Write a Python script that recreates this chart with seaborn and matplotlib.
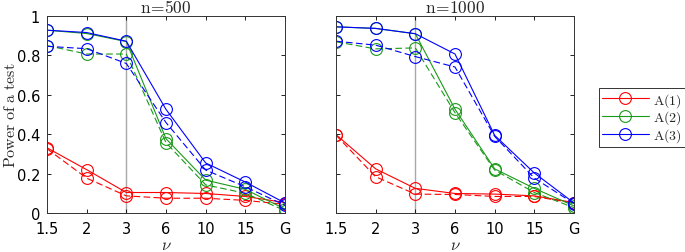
import numpy as np
import pandas as pd
import seaborn as sns
import matplotlib
matplotlib.use("Agg")
import matplotlib.pyplot as plt
from matplotlib.lines import Line2D

nu_labels = ["1.5", "2", "3", "6", "10", "15", "G"]
methods = ["A(1)", "A(2)", "A(3)"]
colors = {"A(1)": "#ff0000", "A(2)": "#1a9a1a", "A(3)": "#0000ff"}

# n = 500
n500_A1_solid = [0.331, 0.220, 0.104, 0.104, 0.099, 0.084, 0.053]
n500_A1_dashed = [0.326, 0.177, 0.087, 0.075, 0.075, 0.064, 0.044]
n500_A2_solid = [0.928, 0.911, 0.870, 0.377, 0.167, 0.120, 0.020]
n500_A2_dashed = [0.850, 0.807, 0.807, 0.357, 0.143, 0.100, 0.012]
n500_A3_solid = [0.928, 0.916, 0.872, 0.526, 0.254, 0.157, 0.051]
n500_A3_dashed = [0.846, 0.834, 0.759, 0.459, 0.218, 0.133, 0.039]

# n = 1000
n1000_A1_solid = [0.398, 0.224, 0.125, 0.099, 0.096, 0.087, 0.053]
n1000_A1_dashed = [0.395, 0.184, 0.096, 0.094, 0.084, 0.084, 0.050]
n1000_A2_solid = [0.945, 0.937, 0.910, 0.527, 0.224, 0.125, 0.036]
n1000_A2_dashed = [0.869, 0.833, 0.838, 0.509, 0.218, 0.104, 0.027]
n1000_A3_solid = [0.945, 0.937, 0.910, 0.807, 0.394, 0.203, 0.051]
n1000_A3_dashed = [0.872, 0.852, 0.794, 0.741, 0.389, 0.177, 0.048]

panels = {
    "n=500": {
        ("A(1)", "solid"): n500_A1_solid, ("A(1)", "dashed"): n500_A1_dashed,
        ("A(2)", "solid"): n500_A2_solid, ("A(2)", "dashed"): n500_A2_dashed,
        ("A(3)", "solid"): n500_A3_solid, ("A(3)", "dashed"): n500_A3_dashed,
    },
    "n=1000": {
        ("A(1)", "solid"): n1000_A1_solid, ("A(1)", "dashed"): n1000_A1_dashed,
        ("A(2)", "solid"): n1000_A2_solid, ("A(2)", "dashed"): n1000_A2_dashed,
        ("A(3)", "solid"): n1000_A3_solid, ("A(3)", "dashed"): n1000_A3_dashed,
    },
}

sns.set_theme(style="white")
plt.rcParams["font.family"] = ["DejaVu Sans"]
plt.rcParams["mathtext.fontset"] = "cm"

fig = plt.figure(figsize=(6.85, 2.53), dpi=100)
ax_pos = [[47 / 685, 39 / 253, 238 / 685, 197 / 253],
          [336 / 685, 39 / 253, 238 / 685, 197 / 253]]

for i, (title, series) in enumerate(panels.items()):
    ax = fig.add_axes(ax_pos[i])
    rows = []
    for (m, kind), vals in series.items():
        for j, v in enumerate(vals):
            rows.append({"x": j, "power": v, "method": m, "kind": kind})
    df = pd.DataFrame(rows)
    ax.axvline(2, color="#a8a8a8", lw=1.0, zorder=0)
    sns.lineplot(data=df, x="x", y="power", hue="method", style="kind",
                 palette=colors, hue_order=methods, style_order=["solid", "dashed"],
                 dashes={"solid": "", "dashed": (6, 3)},
                 markers={"solid": "o", "dashed": "o"}, markersize=8.5,
                 linewidth=0.8, legend=False, ax=ax, sort=False)
    for line in ax.lines[1:]:
        line.set_markerfacecolor("none")
        line.set_markeredgecolor(line.get_color())
        line.set_markeredgewidth(0.8)
    ax.set_xlim(0, 6)
    ax.set_ylim(0, 1)
    ax.set_xticks(range(len(nu_labels)))
    ax.set_xticklabels(nu_labels)
    ax.set_yticks([0, 0.2, 0.4, 0.6, 0.8, 1.0])
    if i == 0:
        ax.set_yticklabels(["0", "0.2", "0.4", "0.6", "0.8", "1"])
        ax.set_ylabel(r"$\mathrm{Power\ of\ a\ test}$", fontsize=11.5)
        ax.yaxis.set_label_coords(-0.12, 0.5)
    else:
        ax.set_yticklabels([])
        ax.set_ylabel("")
    ax.set_xlabel(r"$\nu$", fontsize=12, labelpad=-1)
    ax.set_title(r"$\mathrm{n\!=\!" + title.split("=")[1] + "}$", fontsize=12.5, pad=3)
    ax.tick_params(direction="in", length=3, width=0.6, top=True, right=True,
                   bottom=True, left=True, labelsize=10.5, colors="black")
    ax.tick_params(axis="x", pad=6)
    ax.tick_params(axis="y", pad=5)
    for s in ax.spines.values():
        s.set_color("#333333")
        s.set_linewidth(0.7)

handles = [Line2D([0], [0], color=colors[m], marker="o", markerfacecolor="none",
                  markeredgecolor=colors[m], markersize=8.5, lw=0.8,
                  markeredgewidth=0.8) for m in methods]
labels = [r"$\mathrm{" + m + "}$" for m in methods]
leg = fig.legend(handles, labels, loc="upper left", bbox_to_anchor=(599 / 685, 1 - 89 / 253),
                 frameon=True, fancybox=False, edgecolor="black", fontsize=10,
                 handlelength=3.4, borderpad=0.2, labelspacing=0.0, handletextpad=0.3,
                 borderaxespad=0)
leg.get_frame().set_linewidth(0.7)

fig.savefig("out.png", dpi=100)
